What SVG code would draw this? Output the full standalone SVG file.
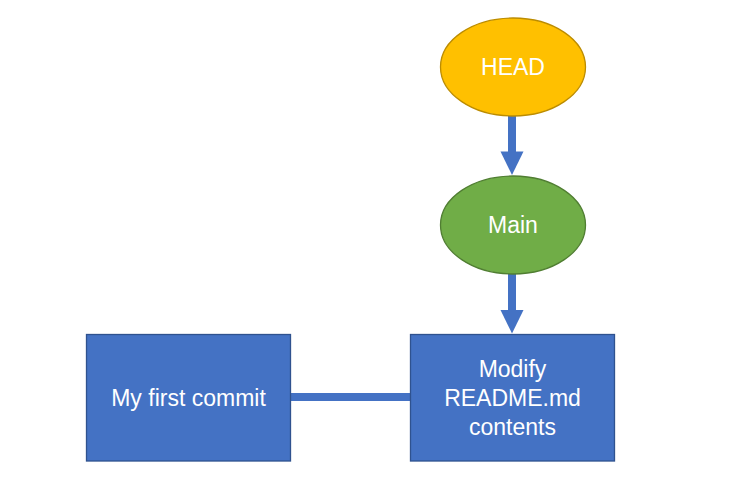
<svg xmlns="http://www.w3.org/2000/svg" width="731" height="504" viewBox="0 0 731 504">
  <style>
    .lbl { font-family: "Liberation Sans", Arial, sans-serif; font-size: 23px; fill: #ffffff; text-anchor: middle; }
    .box { fill: #4472C4; stroke: #2F528F; stroke-width: 1.3; }
    .conn { stroke: #4472C4; stroke-width: 8; fill: none; }
    .head { fill: #4472C4; }
  </style>
  <rect width="731" height="504" fill="#ffffff"/>
  <g id="connectors">
    <line class="conn" x1="512" y1="116" x2="512" y2="153"/>
    <polygon class="head" points="500.5,151.5 523.5,151.5 512,175"/>
    <line class="conn" x1="512" y1="274" x2="512" y2="312"/>
    <polygon class="head" points="500.5,310 523.5,310 512,333.5"/>
    <line class="conn" x1="290" y1="397" x2="411" y2="397"/>
  </g>
  <g id="head-node">
    <ellipse cx="513" cy="67" rx="72.5" ry="49" fill="#FFC000" stroke="#BC8C00" stroke-width="1.3"/>
    <text class="lbl" x="513" y="75">HEAD</text>
  </g>
  <g id="main-node">
    <ellipse cx="513" cy="225" rx="72.5" ry="49" fill="#70AD47" stroke="#507E32" stroke-width="1.3"/>
    <text class="lbl" x="513" y="233">Main</text>
  </g>
  <g id="first-commit">
    <rect class="box" x="86.5" y="334.5" width="204" height="126.5"/>
    <text class="lbl" x="188.5" y="405.5">My first commit</text>
  </g>
  <g id="modify-commit">
    <rect class="box" x="410.5" y="334.5" width="204" height="126.5"/>
    <text class="lbl" x="512.5" y="376.5">Modify</text>
    <text class="lbl" x="512.5" y="405.5">README.md</text>
    <text class="lbl" x="512.5" y="434.5">contents</text>
  </g>
</svg>
